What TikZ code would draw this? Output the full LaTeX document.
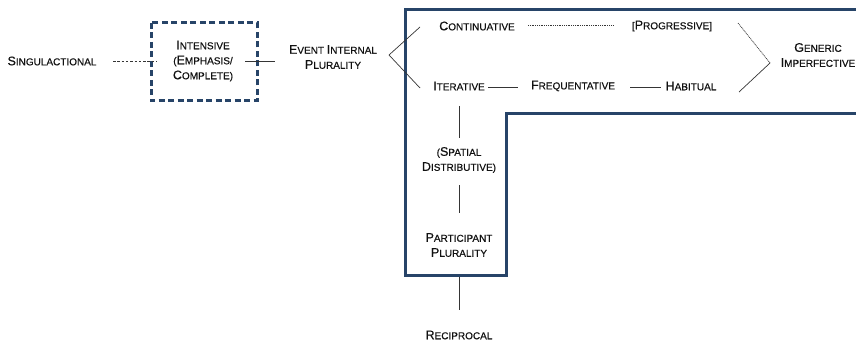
\documentclass[tikz,border=0pt]{standalone}
\usepackage{fontspec}
\setmainfont{Liberation Sans}[FakeBold=0.45]
\definecolor{navy}{HTML}{274468}
\definecolor{ink}{HTML}{111111}
\newcommand{\scw}[2]{{\fontsize{12.5}{15}\selectfont #1}{\fontsize{10}{15}\selectfont #2}}
\begin{document}
\begin{tikzpicture}[x=1pt,y=-1pt,
  lab/.style={align=center,inner sep=0pt,text=ink,font=\fontsize{10}{15}\selectfont},
  conn/.style={draw=ink!85,line width=0.7pt},
  dotl/.style={draw=ink!85,line width=0.7pt,dash pattern=on 1pt off 0.8pt},
  dashl/.style={draw=ink!85,line width=0.8pt,dash pattern=on 2.5pt off 1.8pt},
  frame/.style={draw=navy,line width=3pt}]
\useasboundingbox (0,0) rectangle (856,342);
% frames
\draw[frame,dash pattern=on 6pt off 3.5pt] (151,23) rectangle (257,101);
\draw[frame] (870,10) -- (405,10) -- (405,275) -- (506,275) -- (506,114) -- (870,114);
% nodes
\node[lab] (sing) at (52,61) {\scw{S}{INGULACTIONAL}};
\node[lab] (int) at (203,61) {\scw{I}{NTENSIVE}\\(\scw{E}{MPHASIS}/\\\scw{C}{OMPLETE})};
\node[lab] (eip) at (333,57) {\scw{E}{VENT} \scw{I}{NTERNAL}\\\scw{P}{LURALITY}};
\node[lab] (cont) at (477,26) {\scw{C}{ONTINUATIVE}};
\node[lab] (prog) at (672,26) {[\scw{P}{ROGRESSIVE}]};
\node[lab] (gen) at (818,55) {\scw{G}{ENERIC}\\\scw{I}{MPERFECTIVE}};
\node[lab] (iter) at (459,86) {\scw{I}{TERATIVE}};
\node[lab] (freq) at (573,86) {\scw{F}{REQUENTATIVE}};
\node[lab] (hab) at (691,86) {\scw{H}{ABITUAL}};
\node[lab] (spat) at (459,160) {(\scw{S}{PATIAL}\\\scw{D}{ISTRIBUTIVE})};
\node[lab] (part) at (459,245) {\scw{P}{ARTICIPANT}\\\scw{P}{LURALITY}};
\node[lab] (rec) at (459,335) {\scw{R}{ECIPROCAL}};
% connector coordinates
\coordinate (s1) at (113,61); \coordinate (s2) at (157,61);
\coordinate (i1) at (245,61); \coordinate (i2) at (275,61);
\coordinate (bv) at (389,55); \coordinate (bu) at (420,27); \coordinate (bl) at (420,88);
\coordinate (c1) at (528,25); \coordinate (c2) at (613,25);
\coordinate (gu) at (738,23); \coordinate (gv) at (770,63); \coordinate (gl) at (739,92);
\coordinate (f1) at (488,87); \coordinate (f2) at (518,87);
\coordinate (h1) at (630,87); \coordinate (h2) at (661,87);
\coordinate (v1) at (459,106); \coordinate (v2) at (459,138);
\coordinate (v3) at (459,185); \coordinate (v4) at (459,213);
\coordinate (v5) at (459,277); \coordinate (v6) at (459,310);
% connectors
\draw[dashl] (s1) -- (s2);
\draw[conn] (i1) -- (i2);
\draw[conn] (bu) -- (bv) -- (bl);
\draw[dotl] (c1) -- (c2);
\draw[dotl] (gu) -- (gv);
\draw[conn] (gv) -- (gl);
\draw[conn] (f1) -- (f2);
\draw[conn] (h1) -- (h2);
\draw[conn] (v1) -- (v2);
\draw[conn] (v3) -- (v4);
\draw[conn] (v5) -- (v6);
\end{tikzpicture}
\end{document}
